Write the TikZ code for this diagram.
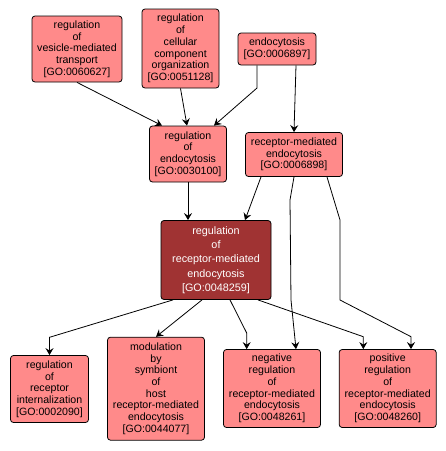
\documentclass[tikz,border=0pt]{standalone}
\usepackage{fontspec}
\setmainfont{Liberation Sans}
\usetikzlibrary{arrows.meta}
\definecolor{golight}{HTML}{FF8A8A}
\definecolor{godark}{HTML}{A03333}
\begin{document}
\begin{tikzpicture}[x=1pt,y=-1pt,
  gonode/.style={draw=black,line width=0.8pt,fill=golight,rounded corners=3pt,inner sep=0pt,align=center,
    font=\fontsize{10.6}{11.7}\selectfont},
  gomain/.style={gonode,fill=godark,text=white,font=\fontsize{10.8}{14.3}\selectfont},
  goedge/.style={draw=black,line width=0.8pt,-{Stealth[length=7pt,width=8pt,inset=2.5pt]}}]
\useasboundingbox (0,0) rectangle (446,451);
% top row
\node[gonode,minimum width=90pt,minimum height=66pt] (n60627) at (77,49) {regulation\\of\\vesicle-mediated\\transport\\{[GO:0060627]}};
\node[gonode,minimum width=77pt,minimum height=79pt] (n51128) at (180.5,48.5) {regulation\\of\\cellular\\component\\organization\\{[GO:0051128]}};
\node[gonode,minimum width=78pt,minimum height=32pt] (n6897) at (277,49) {endocytosis\\{[GO:0006897]}};
% middle
\node[gonode,minimum width=77pt,minimum height=56pt] (n30100) at (188,154) {regulation\\of\\endocytosis\\{[GO:0030100]}};
\node[gonode,minimum width=97pt,minimum height=44pt] (n6898) at (294,154.5) {receptor-mediated\\endocytosis\\{[GO:0006898]}};
\node[gomain,minimum width=110pt,minimum height=79pt] (n48259) at (216,260) {regulation\\of\\receptor-mediated\\endocytosis\\{[GO:0048259]}};
% bottom row
\node[gonode,minimum width=78pt,minimum height=67pt] (n2090) at (49.5,389) {regulation\\of\\receptor\\internalization\\{[GO:0002090]}};
\node[gonode,minimum width=97pt,minimum height=103pt] (n44077) at (156,388.7) {modulation\\by\\symbiont\\of\\host\\receptor-mediated\\endocytosis\\{[GO:0044077]}};
\node[gonode,minimum width=97pt,minimum height=78pt] (n48261) at (272,388.5) {negative\\regulation\\of\\receptor-mediated\\endocytosis\\{[GO:0048261]}};
\node[gonode,minimum width=97pt,minimum height=78pt] (n48260) at (387.7,388.5) {positive\\regulation\\of\\receptor-mediated\\endocytosis\\{[GO:0048260]}};
% edges
\draw[goedge] (n60627.south) -- ([xshift=-26pt]n30100.north);
\draw[goedge] (n51128.south) -- ([xshift=-1pt]n30100.north);
\draw[goedge] ([xshift=-20pt]n6897.south) -- (257,88) -- ([xshift=26pt]n30100.north);
\draw[goedge] ([xshift=19pt]n6897.south) -- (n6898.north);
\draw[goedge] (n30100.south) -- ([xshift=-28pt]n48259.north);
\draw[goedge] ([xshift=-33pt]n6898.south) -- ([xshift=29pt]n48259.north);
\draw[goedge] (n6898.south) -- (290,200) -- (291,300) -- ([xshift=24pt]n48261.north);
\draw[goedge] ([xshift=33pt]n6898.south) -- (340,220) -- (340,300) -- (411,336.7) -- ([xshift=23.3pt]n48260.north);
\draw[goedge] ([xshift=-43pt]n48259.south) -- (49.5,337.3) -- (n2090.north);
\draw[goedge] ([xshift=-14pt]n48259.south) -- (n44077.north);
\draw[goedge] ([xshift=14pt]n48259.south) -- (246.7,333) -- ([xshift=-25.3pt]n48261.north);
\draw[goedge] ([xshift=42pt]n48259.south) -- (363.3,336.7) -- ([xshift=-24.4pt]n48260.north);
\end{tikzpicture}
\end{document}
